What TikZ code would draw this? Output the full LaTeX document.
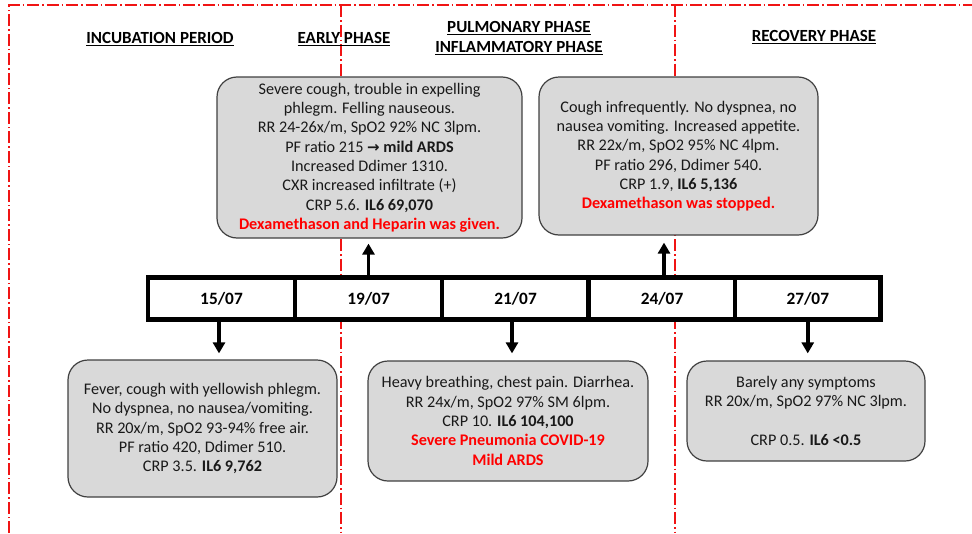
\documentclass[tikz,border=0pt]{standalone}
\usepackage{fontspec}
\setmainfont{Carlito}
\newfontfamily\dejavu{DejaVu Sans}
\usetikzlibrary{arrows.meta}
\definecolor{boxgray}{HTML}{D9D9D9}
\definecolor{boxline}{HTML}{404040}
\definecolor{txtred}{HTML}{FF0000}
\definecolor{divred}{RGB}{240,20,20}
\newcommand\phul[1]{\setbox0\hbox{#1}\rlap{\rule[-2.8pt]{\wd0}{1.3pt}}\box0}
\tikzset{
  infobox/.style={draw=boxline, line width=1.2pt, fill=boxgray, rounded corners=20pt,
    align=center, inner sep=0pt, font=\fontsize{16.2}{19.3}\selectfont, text=black!90},
  datecell/.style={draw=black, fill=white, line width=4.5pt, minimum width=147pt, minimum height=42pt,
    font=\bfseries\fontsize{17.3}{19}\selectfont, inner sep=0pt},
  phase/.style={font=\bfseries\fontsize{17}{20}\selectfont, align=center, inner sep=0pt},
  divline/.style={color=divred, line width=1.25pt, dash pattern=on 12pt off 3pt on 1.5pt off 3pt},
  tlarrow/.style={line width=3.5pt, -{Triangle[width=12pt,length=11pt]}}
}
\newcommand\rb[1]{\textcolor{txtred}{\textbf{#1}}}
\begin{document}
\begin{tikzpicture}[x=1pt,y=-1pt]
\useasboundingbox (0,0) rectangle (972,533);
% border and phase dividers
\draw[divline] (9,533) -- (9,5) -- (972,5);
\draw[divline] (341,5) -- (341,533);
\draw[divline] (675,5) -- (675,533);
% phase headers
\node[phase] (hinc) at (160,39) {\phul{INCUBATION PERIOD}};
\node[phase] (hearly) at (344,39) {\phul{EARLY PHASE}};
\node[phase] (hpulm) at (519,38) {\phul{PULMONARY PHASE}\\\phul{INFLAMMATORY PHASE}};
\node[phase] (hrec) at (814,37) {\phul{RECOVERY PHASE}};
% timeline
\node[datecell] (d15) at (221.5,298.5) {15/07};
\node[datecell] (d19) at (368.5,298.5) {19/07};
\node[datecell] (d21) at (515.5,298.5) {21/07};
\node[datecell] (d24) at (662,298.5) {24/07};
\node[datecell, minimum width=145.5pt] (d27) at (807.75,298.5) {27/07};
% boxes
\node[infobox, minimum width=269pt, minimum height=137pt] (bA) at (202.5,428.5)
 {Fever, cough with yellowish phlegm.\\No dyspnea, no nausea/vomiting.\\RR 20x/m, SpO2 93-94\% free air.\\PF ratio 420, Ddimer 510.\\CRP 3.5. \textbf{IL6 9,762}};
\node[infobox, minimum width=305pt, minimum height=161pt] (bB) at (369.5,157.5)
 {Severe cough, trouble in expelling\\phlegm. Felling nauseous.\\RR 24-26x/m, SpO2 92\% NC 3lpm.\\PF ratio 215 {\dejavu\bfseries\fontsize{15}{19.3}\selectfont →} \textbf{mild ARDS}\\Increased Ddimer 1310.\\CXR increased infiltrate (+)\\CRP 5.6. \textbf{IL6 69,070}\\\rb{Dexamethason and Heparin was given.}};
\node[infobox, minimum width=280pt, minimum height=120pt] (bC) at (508,421)
 {Heavy breathing, chest pain. Diarrhea.\\RR 24x/m, SpO2 97\% SM 6lpm.\\CRP 10. \textbf{IL6 104,100}\\\rb{Severe Pneumonia COVID-19}\\\rb{Mild ARDS}};
\node[infobox, minimum width=279pt, minimum height=158pt] (bD) at (678.5,156)
 {Cough infrequently. No dyspnea, no\\nausea vomiting. Increased appetite.\\RR 22x/m, SpO2 95\% NC 4lpm.\\PF ratio 296, Ddimer 540.\\CRP 1.9, \textbf{IL6 5,136}\\\rb{Dexamethason was stopped.}};
\node[infobox, minimum width=238pt, minimum height=100pt] (bE) at (806,411)
 {Barely any symptoms\\RR 20x/m, SpO2 97\% NC 3lpm.\\[19.3pt]CRP 0.5. \textbf{IL6 <0.5}};
% arrows
\draw[tlarrow, shorten >=6pt] ([xshift=-2.5pt]d15.south) -- ([xshift=-2.5pt]d15.south |- bA.north);
\draw[tlarrow, shorten >=5pt] (d19.north) -- (d19.north |- bB.south);
\draw[tlarrow, shorten >=7pt] ([xshift=-3.5pt]d21.south) -- ([xshift=-3.5pt]d21.south |- bC.north);
\draw[tlarrow, shorten >=7pt] ([xshift=2pt]d24.north) -- ([xshift=2pt]d24.north |- bD.south);
\draw[tlarrow, shorten >=7pt] (d27.south) -- (d27.south |- bE.north);
\end{tikzpicture}
\end{document}
